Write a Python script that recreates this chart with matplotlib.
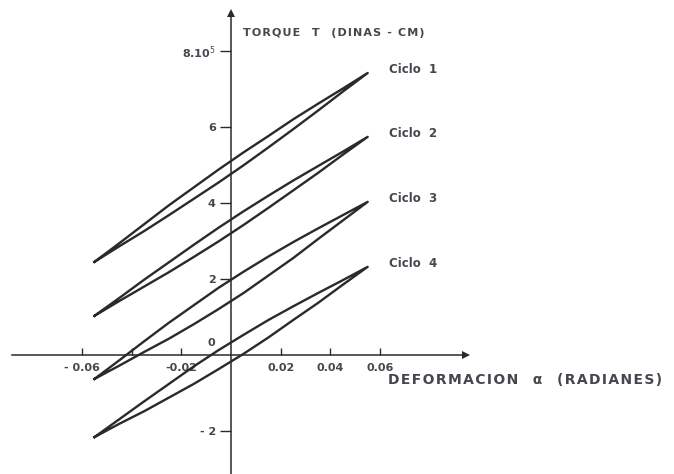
import matplotlib
matplotlib.use("Agg")
import matplotlib.pyplot as plt

# deformacion alfa (radianes) where both branches of each loop were read
alfa = [-0.055, -0.045, -0.035, -0.025, -0.015, -0.005,
        0.005, 0.015, 0.025, 0.035, 0.045, 0.055]

# torque (x 10^5 dinas-cm), upper and lower branch of each cycle
ciclo1_sup = [2.45, 2.94, 3.44, 3.94, 4.41, 4.88, 5.33, 5.76, 6.20, 6.61, 7.01, 7.42]
ciclo1_inf = [2.45, 2.86, 3.26, 3.68, 4.11, 4.54, 4.99, 5.46, 5.94, 6.43, 6.93, 7.42]
ciclo2_sup = [1.03, 1.50, 1.98, 2.44, 2.90, 3.35, 3.78, 4.19, 4.59, 4.97, 5.35, 5.74]
ciclo2_inf = [1.03, 1.42, 1.80, 2.18, 2.58, 2.99, 3.42, 3.87, 4.33, 4.79, 5.27, 5.74]
ciclo3_sup = [-0.63, -0.14, 0.36, 0.85, 1.31, 1.77, 2.19, 2.59, 2.97, 3.33, 3.68, 4.03]
ciclo3_inf = [-0.63, -0.28, 0.08, 0.43, 0.81, 1.21, 1.63, 2.09, 2.55, 3.05, 3.54, 4.03]
ciclo4_sup = [-2.16, -1.69, -1.22, -0.76, -0.30, 0.13, 0.53, 0.92, 1.28, 1.63, 1.97, 2.32]
ciclo4_inf = [-2.16, -1.81, -1.48, -1.12, -0.76, -0.37, 0.03, 0.46, 0.92, 1.37, 1.85, 2.32]

nombres = ["Ciclo  1", "Ciclo  2", "Ciclo  3", "Ciclo  4"]

x_ticks = [-0.06, -0.04, -0.02, 0.02, 0.04, 0.06]
x_labels = ["- 0.06", "", "-0.02", "0.02", "0.04", "0.06"]
y_ticks = [-2, 2, 4, 6, 8]
y_labels = ["- 2", "2", "4", "6", "8.10$^5$"]

tinta = "#2a2a2e"
letra = "#46464e"


def espaciado(s):
    # lettering a mano: un poco de aire entre letras
    return "\u200a".join(s)


fig = plt.figure(figsize=(6.74, 4.74), dpi=100)
ax = fig.add_axes([0, 0, 1, 1])
ax.set_xlim(-0.093, 0.1783)
ax.set_ylim(-3.13, 9.34)

ciclos = [(ciclo1_sup, ciclo1_inf), (ciclo2_sup, ciclo2_inf),
          (ciclo3_sup, ciclo3_inf), (ciclo4_sup, ciclo4_inf)]
for (sup, inf), nombre in zip(ciclos, nombres):
    xs = alfa + alfa[::-1]
    ys = sup + inf[::-1]
    ax.plot(xs, ys, color=tinta, lw=1.7, solid_joinstyle="round")
    ax.text(0.0635, sup[-1] + 0.1, nombre, color=letra, fontsize=8.5,
            fontweight="bold", va="center", ha="left")

# ejes cruzando en el origen
for lado in ["top", "right"]:
    ax.spines[lado].set_visible(False)
ax.spines["left"].set_position(("data", 0))
ax.spines["bottom"].set_position(("data", 0))
ax.spines["left"].set_bounds(-3.13, 8.95)
ax.spines["bottom"].set_bounds(-0.088, 0.094)
for lado in ["left", "bottom"]:
    ax.spines[lado].set_color(tinta)
    ax.spines[lado].set_linewidth(1.1)
ax.plot(0.0945, 0, marker=">", color=tinta, ms=6, mew=0, clip_on=False)
ax.plot(0, 9.0, marker="^", color=tinta, ms=6, mew=0, clip_on=False)

ax.set_xticks(x_ticks, x_labels)
ax.set_yticks(y_ticks, y_labels)
ax.tick_params(axis="x", direction="in", length=5, width=1, color=tinta,
               labelsize=8, labelcolor=letra, pad=6)
ax.tick_params(axis="y", direction="out", length=8, width=1, color=tinta,
               labelsize=8, labelcolor=letra, pad=3)
for t in ax.get_xticklabels() + ax.get_yticklabels():
    t.set_fontweight("bold")

ax.text(-0.008, 0.32, "0", color=letra, fontsize=8, fontweight="bold",
        ha="center", va="center")
ax.text(0.0048, 8.47, espaciado("TORQUE") + "   T   " + espaciado("(DINAS - CM)"),
        color=letra, fontsize=8, fontweight="bold", va="center", ha="left")
ax.text(0.0632, -0.66,
        espaciado("DEFORMACION") + "   α   " + espaciado("(RADIANES)"),
        color=letra, fontsize=10, fontweight="bold", va="center", ha="left")

fig.savefig("out.png", dpi=100, facecolor="white")
